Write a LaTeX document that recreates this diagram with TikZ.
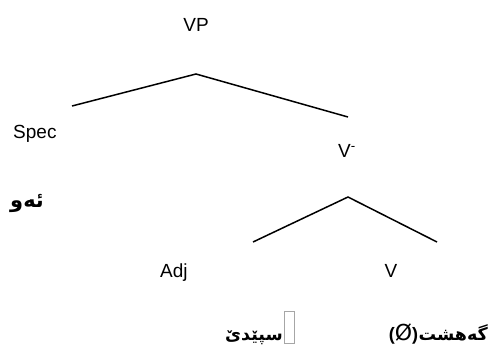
\documentclass[tikz,border=0pt]{standalone}
\usepackage{fontspec}
\setmainfont{Liberation Sans}
\newfontfamily\arabicfont[Script=Arabic]{DejaVu Sans}
\newfontfamily\symfont{DejaVu Sans}
\TeXXeTstate=1
\begin{document}
\begin{tikzpicture}[x=1pt,y=-1pt,
  lbl/.style={inner sep=0pt,anchor=base,font=\fontsize{19}{22}\selectfont},
  ar/.style={inner sep=0pt,anchor=base,font=\fontsize{17.5}{21}\selectfont\arabicfont\bfseries},
  branch/.style={line width=1.5pt,black},
  missing/.style={draw=gray!70,line width=0.6pt,minimum width=10pt,minimum height=32pt,inner sep=0pt,anchor=north west}]
\useasboundingbox (0,0) rectangle (490,356);
% labels
\node[lbl] (vp) at (196,31) {VP};
\node[lbl,anchor=base west] (spec) at (13,138) {Spec};
\node[lbl,anchor=base west] (vbar) at (338,157) {V\textsuperscript{-}};
\node[lbl,anchor=base west] (adj) at (160,277) {Adj};
\node[lbl] (v) at (391,277) {V};
\node[ar,anchor=base west,font=\fontsize{21}{24}\selectfont\arabicfont\bfseries] (aw) at (10,207) {\beginR ئەو\endR};
\node[ar,anchor=base east] (spede) at (283,340) {\beginR سپێدێ\endR};
\node[missing] (box) at (284,311) {};
\node[ar,anchor=base east] (gahisht) at (488,340) {\beginR گەهشت\endR};
\node[inner sep=0pt,anchor=base east,font=\fontsize{18}{21}\selectfont\bfseries] (null) at (gahisht.base west) {(\textnormal{\fontsize{22}{24}\selectfont\symfont Ø})};
% tree branches
\coordinate (top1) at (196,74);
\coordinate (l1) at (72,106);
\coordinate (r1) at (348,117);
\coordinate (top2) at (348,197);
\coordinate (l2) at (253,242);
\coordinate (r2) at (437,242);
\draw[branch] (l1) -- (top1) -- (r1);
\draw[branch] (l2) -- (top2) -- (r2);
\end{tikzpicture}
\end{document}
